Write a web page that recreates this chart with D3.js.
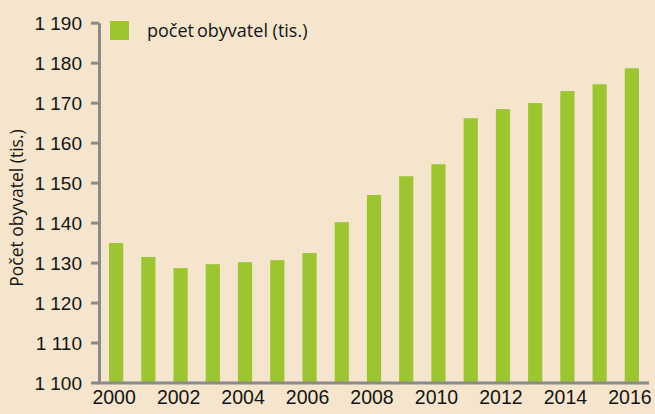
<!DOCTYPE html>
<html>
<head>
<meta charset="utf-8">
<script src="https://cdn.jsdelivr.net/npm/d3@7"></script>
<style>
  html, body { margin: 0; padding: 0; background: #f5e5cd; }
  svg { display: block; font-family: 'Open Sans', sans-serif; }
</style>
</head>
<body>
<svg id="chart" width="655" height="414"></svg>
<script>
const years = ['2000', '2001', '2002', '2003', '2004', '2005', '2006', '2007', '2008',
  '2009', '2010', '2011', '2012', '2013', '2014', '2015', '2016'];
const population = [1134.9, 1131.4, 1128.6, 1129.6, 1130.1, 1130.6, 1132.4, 1140.1, 1146.9,
  1151.6, 1154.6, 1166.1, 1168.4, 1169.9, 1172.9, 1174.6, 1178.6];
const yTicks = [1100, 1110, 1120, 1130, 1140, 1150, 1160, 1170, 1180, 1190];
const xTickLabels = ['2000', '2002', '2004', '2006', '2008', '2010', '2012', '2014', '2016'];
const seriesWords = ['počet', 'obyvatel (tis.)'];
const axisTitle = 'Počet obyvatel (tis.)';

const green = '#9dc431';
const gray = '#8a8a8a';
const ink = '#141414';
const svg = d3.select('#chart');

const x = d3.scaleBand().domain(years).range([100, 648]).paddingInner(0.56).paddingOuter(0.28);
const y = d3.scaleLinear().domain([1100, 1190]).range([382.5, 22.7]);

const fmt = d3.formatLocale({ decimal: ',', thousands: ' ', grouping: [3], currency: ['', ''] }).format(',d');

// bars
svg.append('g')
  .selectAll('rect')
  .data(population)
  .enter()
  .append('rect')
  .attr('fill', green)
  .attr('x', (d, i) => x(years[i]))
  .attr('width', x.bandwidth())
  .attr('y', d => y(d))
  .attr('height', d => y(1100) - y(d));

// y axis
const yAxis = svg.append('g')
  .attr('transform', 'translate(99,0)')
  .call(d3.axisLeft(y).tickValues(yTicks).tickFormat(fmt).tickSize(8).tickSizeOuter(0).tickPadding(9));
yAxis.select('.domain').attr('stroke', gray).attr('stroke-width', 3);
yAxis.selectAll('.tick line').attr('stroke', gray).attr('stroke-width', 3);
yAxis.selectAll('.tick text').attr('fill', ink).style('font-size', '19px').attr('dy', '0.36em');

// x axis
const xAxis = svg.append('g')
  .attr('transform', `translate(0,${y(1100) + 0.5})`)
  .call(d3.axisBottom(x).tickValues(xTickLabels).tickSize(0).tickSizeOuter(0).tickPadding(7));
xAxis.select('.domain').attr('d', 'M97.5,0H649').attr('stroke', gray).attr('stroke-width', 3);
xAxis.selectAll('.tick text').attr('fill', ink).style('font-size', '19.5px').attr('dx', -2);

// axis title
svg.append('text')
  .attr('transform', 'translate(23,208) rotate(-90)')
  .attr('text-anchor', 'middle')
  .attr('fill', ink)
  .style('font-size', '17.5px')
  .text(axisTitle);

// legend
const legend = svg.append('g').attr('transform', 'translate(110,21)');
legend.append('rect').attr('width', 19).attr('height', 19).attr('fill', green);
const lt = legend.append('text')
  .attr('x', 37).attr('y', 16)
  .attr('fill', ink)
  .style('font-size', '18px');
lt.append('tspan').text(seriesWords[0]);
lt.append('tspan').attr('dx', 3).text(seriesWords[1]);
</script>
</body>
</html>
